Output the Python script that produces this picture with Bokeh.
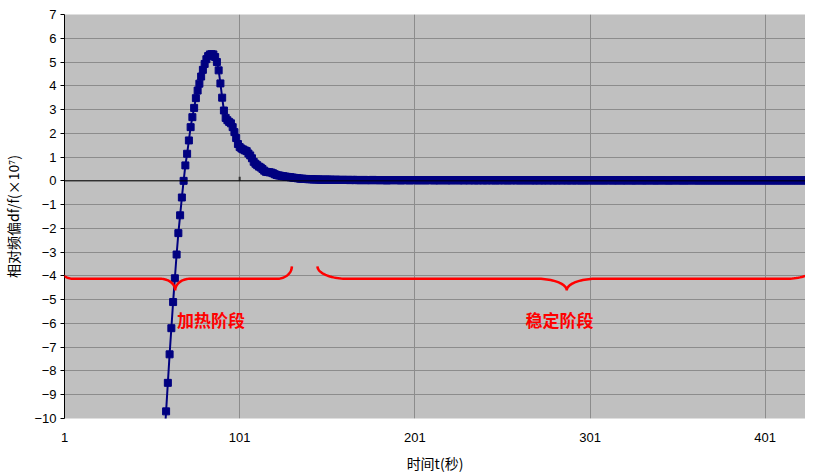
import numpy as np
from bokeh.plotting import figure
from bokeh.models import Range1d, FixedTicker, Span, Label, PolyAnnotation
from bokeh.embed import file_html
from bokeh.resources import INLINE

# ---------------- data ----------------
t_start = 55
values_rise = [
    -14.6, -13.3, -12.0, -10.9, -9.7, -8.5, -7.3, -6.2, -5.1, -4.1,      # 55-64
    -3.1, -2.2, -1.45, -0.7, 0.0, 0.65, 1.14, 1.7, 2.26, 2.68,           # 65-74
    3.07, 3.48, 3.8, 4.09, 4.39, 4.67, 4.92, 5.12, 5.25, 5.32,           # 75-84
    5.33, 5.32, 5.21, 5.0, 4.65, 4.1, 3.5, 2.96, 2.65, 2.55,             # 85-94
    2.48, 2.42, 2.26, 2.05, 1.8, 1.55, 1.42, 1.36, 1.32, 1.28,           # 95-104
    1.25, 1.15, 1.07, 0.95, 0.8, 0.72, 0.66, 0.6, 0.56, 0.5,             # 105-114
    0.43, 0.38, 0.37, 0.36, 0.35, 0.32, 0.28, 0.25, 0.23, 0.22,          # 115-124
    0.2, 0.19, 0.18, 0.17, 0.16, 0.15, 0.14, 0.13, 0.12, 0.11,           # 125-134
    0.1, 0.09, 0.09, 0.08, 0.08, 0.07, 0.07, 0.07, 0.06, 0.06,           # 135-144
    0.06, 0.06, 0.05, 0.05, 0.05, 0.05,                                  # 145-150
]
values_tail = [
    0.05, 0.05, 0.05, 0.04, 0.04, 0.05, 0.04, 0.04, 0.04, 0.04, 0.04, 0.04, 0.04, 0.03, 0.04, 0.04, 0.03, 0.04, 0.03, 0.03,
    0.03, 0.04, 0.03, 0.03, 0.03, 0.03, 0.04, 0.03, 0.03, 0.03, 0.03, 0.03, 0.03, 0.03, 0.02, 0.03, 0.03, 0.03, 0.03, 0.03,
    0.03, 0.03, 0.02, 0.03, 0.03, 0.03, 0.03, 0.02, 0.03, 0.03, 0.03, 0.03, 0.02, 0.03, 0.03, 0.03, 0.02, 0.03, 0.03, 0.03,
    0.03, 0.02, 0.03, 0.03, 0.02, 0.03, 0.03, 0.03, 0.02, 0.03, 0.03, 0.02, 0.03, 0.03, 0.03, 0.02, 0.03, 0.03, 0.02, 0.03,
    0.03, 0.02, 0.03, 0.03, 0.02, 0.03, 0.02, 0.03, 0.03, 0.02, 0.03, 0.02, 0.03, 0.03, 0.02, 0.03, 0.02, 0.03, 0.02, 0.03,
    0.03, 0.02, 0.03, 0.02, 0.03, 0.02, 0.03, 0.03, 0.02, 0.03, 0.02, 0.03, 0.02, 0.03, 0.02, 0.03, 0.02, 0.03, 0.02, 0.02,
    0.03, 0.02, 0.03, 0.02, 0.02, 0.03, 0.02, 0.03, 0.02, 0.02, 0.03, 0.02, 0.02, 0.03, 0.02, 0.03, 0.02, 0.02, 0.03, 0.02,
    0.02, 0.03, 0.02, 0.02, 0.03, 0.02, 0.02, 0.02, 0.03, 0.02, 0.02, 0.03, 0.02, 0.02, 0.02, 0.03, 0.02, 0.02, 0.02, 0.03,
    0.02, 0.02, 0.03, 0.02, 0.02, 0.02, 0.02, 0.03, 0.02, 0.02, 0.02, 0.02, 0.03, 0.02, 0.02, 0.02, 0.02, 0.02, 0.03, 0.02,
    0.02, 0.02, 0.02, 0.02, 0.03, 0.02, 0.02, 0.02, 0.02, 0.02, 0.02, 0.03, 0.02, 0.02, 0.02, 0.02, 0.02, 0.02, 0.02, 0.03,
    0.02, 0.02, 0.02, 0.02, 0.02, 0.02, 0.02, 0.02, 0.03, 0.02, 0.02, 0.02, 0.02, 0.02, 0.02, 0.02, 0.02, 0.02, 0.02, 0.02,
    0.02, 0.02, 0.02, 0.02, 0.02, 0.02, 0.02, 0.02, 0.02, 0.02, 0.02, 0.02, 0.02, 0.02, 0.02, 0.02, 0.02, 0.02, 0.02, 0.02,
    0.02, 0.02, 0.02, 0.02, 0.02, 0.02, 0.02, 0.02, 0.02, 0.02, 0.02, 0.02, 0.02, 0.02, 0.02, 0.02, 0.02, 0.02, 0.02, 0.02,
    0.02, 0.02, 0.02, 0.02, 0.02, 0.02, 0.02, 0.02, 0.02, 0.02, 0.02, 0.02, 0.02, 0.02, 0.02, 0.02, 0.02, 0.02,
]
freq_dev = values_rise + values_tail
time_s = list(range(t_start, t_start + len(freq_dev)))

x_ticks = [1, 101, 201, 301, 401]
y_ticks = list(range(-10, 8))
x_title = "时间t(秒)"
y_title = "相对频偏df/f(×10⁷)"
phase_labels = ["加热阶段", "稳定阶段"]

# ---------------- figure ----------------
p = figure(width=805, height=475, output_backend="svg", toolbar_location=None,
           x_range=Range1d(1, 424.0), y_range=Range1d(-10, 7),
           min_border_left=55, min_border_right=0, min_border_top=14, min_border_bottom=56)
p.background_fill_color = "#C0C0C0"
p.border_fill_color = "white"
p.outline_line_color = None

# grids
p.xgrid.ticker = FixedTicker(ticks=x_ticks)
p.ygrid.ticker = FixedTicker(ticks=y_ticks)
for g in (p.xgrid, p.ygrid):
    g.grid_line_color = "#8C8C8C"
    g.grid_line_width = 1

# x axis (labels only; the axis line is the zero line)
xa = p.xaxis[0]
xa.ticker = FixedTicker(ticks=x_ticks)
xa.axis_line_color = None
xa.major_tick_line_color = None
xa.minor_tick_line_color = None
xa.major_tick_out = 0
xa.major_tick_in = 0
xa.major_label_standoff = 14
xa.major_label_text_font = "Liberation Sans"
xa.major_label_text_font_size = "13px"
xa.major_label_text_color = "black"
xa.axis_label = x_title
xa.axis_label_text_font = "Noto Sans CJK SC"
xa.axis_label_text_font_size = "14px"
xa.axis_label_text_font_style = "normal"
xa.axis_label_text_color = "black"
xa.axis_label_standoff = 8

ya = p.yaxis[0]
ya.ticker = FixedTicker(ticks=y_ticks)
ya.axis_line_color = "black"
ya.axis_line_width = 1
ya.major_tick_line_color = "black"
ya.major_tick_in = 0
ya.major_tick_out = 4
ya.minor_tick_line_color = None
ya.major_label_standoff = 4
ya.major_label_text_font = "Liberation Sans"
ya.major_label_text_font_size = "13px"
ya.major_label_text_color = "black"
ya.axis_label = y_title
ya.axis_label_text_font = "Noto Sans CJK SC"
ya.axis_label_text_font_size = "14px"
ya.axis_label_text_font_style = "normal"
ya.axis_label_text_color = "black"
ya.axis_label_standoff = 8

# zero line with small category ticks
p.add_layout(Span(location=0, dimension="width", line_color="black", line_width=1))
p.segment(x0=x_ticks[1:], y0=[0] * 4, x1=x_ticks[1:], y1=[0.17] * 4, line_color="#333333", line_width=2)

# series
p.line(time_s, freq_dev, line_color="#000080", line_width=2)
p.scatter(time_s, freq_dev, marker="square", size=7, fill_color="#000080", line_color="#000080")

# braces
def brace(x0, x1, y_tip, y_line, y_point, a):
    th = np.linspace(0, np.pi / 2, 24)
    xc = (x0 + x1) / 2
    xl = np.concatenate([x0 + a - a * np.cos(th), xc - a + a * np.sin(th)])
    yl = np.concatenate([y_tip - (y_tip - y_line) * np.sin(th), y_point + (y_line - y_point) * np.cos(th)])
    xr = (2 * xc - xl)[::-1]
    yr = yl[::-1]
    xs = np.concatenate([xl, xr])
    ys = np.concatenate([yl, yr])
    xs = np.concatenate([xs, xs[::-1]])
    ys = np.concatenate([ys, ys[::-1]])
    return list(xs), list(ys)

for (x0, x1, a) in [(-2.4, 130.8, 8.5), (145.4, 430.0, 17.0)]:
    bx, by = brace(x0, x1, -3.6, -4.12, -4.61, a)
    p.add_layout(PolyAnnotation(xs=bx, ys=by, xs_units="data", ys_units="data",
                                line_color="#FF0000", line_alpha=1.0, line_width=2.5,
                                fill_color=None, fill_alpha=0))

for txt, xpos in zip(phase_labels, [84.7, 283.6]):
    p.add_layout(Label(x=xpos, y=-5.85, text=txt, text_align="center", text_baseline="middle",
                       text_font="Noto Sans CJK SC", text_font_style="bold",
                       text_font_size="17px", text_color="#FF0000"))

open("out.html", "w").write(file_html(p, INLINE))
